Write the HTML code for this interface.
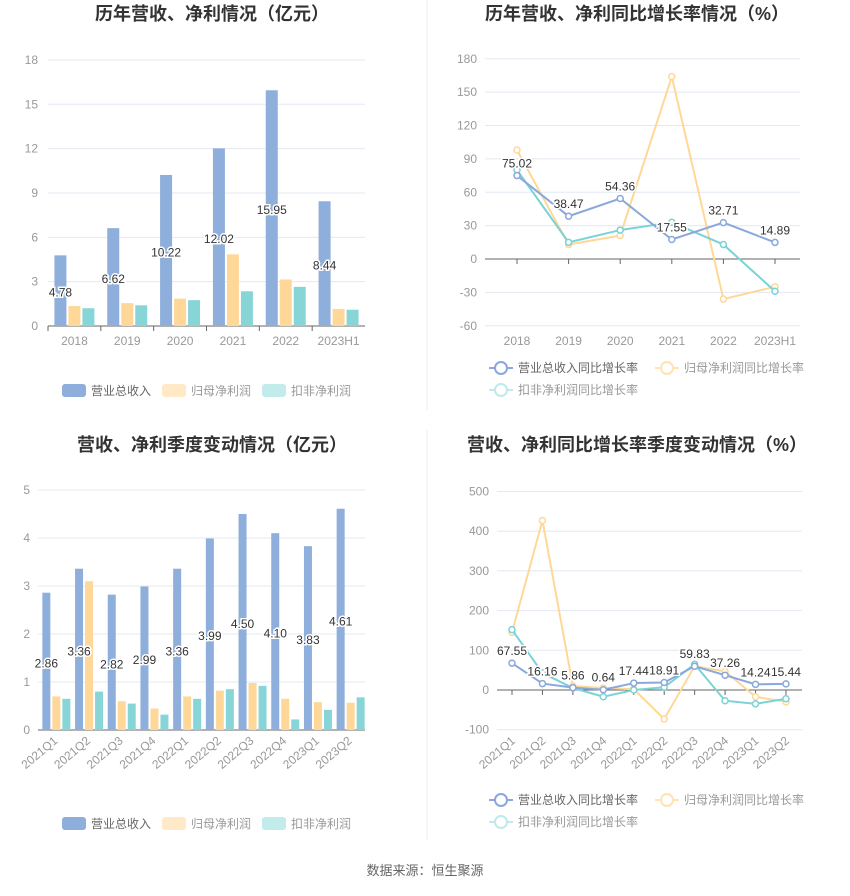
<!DOCTYPE html><html><head><meta charset="utf-8"><style>
body{margin:0;background:#fff;width:850px;height:891px;overflow:hidden;font-family:"Liberation Sans","Noto Sans CJK SC",sans-serif}
</style></head><body>
<svg id="s" width="850" height="891" xmlns="http://www.w3.org/2000/svg" font-family="Liberation Sans, Noto Sans CJK SC, sans-serif"></svg>
<script>
var o='';
function t(x,y,s,a,sz,c,w,ex){o+='<text x="'+x+'" y="'+y+'" text-anchor="'+(a||'middle')+'" font-size="'+(sz||12)+'" fill="'+(c||'#999')+'"'+(w?' font-weight="bold"':'')+(ex||'')+'>'+s+'</text>';}
function l(x1,y1,x2,y2,c,w){o+='<line x1="'+x1+'" y1="'+y1+'" x2="'+x2+'" y2="'+y2+'" stroke="'+c+'" stroke-width="'+(w||1)+'"/>';}
function r(x,y,w,h,c){o+='<rect x="'+x+'" y="'+y+'" width="'+w+'" height="'+h+'" fill="'+c+'"/>';}
var B='#8eaedb',O='#ffd899',T='#88d5d8';
var BL='#8aa8dc',OL='#ffd897',TL='#7ad3d6';
function lab(x,y,s){t(x,y,s,'middle',12,'#333',0,' stroke="#fff" stroke-width="3" paint-order="stroke"');}
l(427,0,427,410,'#eee');l(427,430,427,840,'#eee');
t(212,20,'历年营收、净利情况（亿元）','middle',18,'#333',1);
t(637,20,'历年营收、净利同比增长率情况（%）','middle',18,'#333',1);
t(212,451,'营收、净利季度变动情况（亿元）','middle',18,'#333',1);
t(637,451,'营收、净利同比增长率季度变动情况（%）','middle',18,'#333',1);
(function(){var y0=326,k=14.78,x0=48,x1=365;
for(var v=0;v<=18;v+=3){var y=y0-v*k;if(v)l(x0,y,x1,y,'#e3e8f3');t(38,y+4,v,'end',12,'#999');}
l(x0,y0,x1,y0,'#666');
var c=['2018','2019','2020','2021','2022','2023H1'],a=[4.78,6.62,10.22,12.02,15.95,8.44],b=[1.35,1.55,1.85,4.85,3.15,1.15],d=[1.2,1.4,1.75,2.35,2.65,1.1];
var st=(x1-x0)/6;
for(var i=0;i<6;i++){var cx=x0+st*(i+.5);r(cx-20,y0-a[i]*k,12,a[i]*k,B);r(cx-6,y0-b[i]*k,12,b[i]*k,O);r(cx+8,y0-d[i]*k,12,d[i]*k,T);
l(x0+st*i,y0,x0+st*i,y0+5,'#666');t(cx,345,c[i],'middle',12,'#999');}
for(i=0;i<6;i++){var cx=x0+st*(i+.5);lab(cx-14,y0-a[i]*k/2+6,a[i].toFixed(2));}
})();
function legB(y){o+='<rect x="62" y="'+(y-6)+'" width="24" height="13" rx="3" fill="'+B+'"/>';t(91,y+5,'营业总收入','start',12,'#666');
o+='<rect x="162" y="'+(y-6)+'" width="24" height="13" rx="3" fill="#ffe9c6"/>';t(191,y+5,'归母净利润','start',12,'#999');
o+='<rect x="262" y="'+(y-6)+'" width="24" height="13" rx="3" fill="#c2ebec"/>';t(291,y+5,'扣非净利润','start',12,'#999');}
legB(390);legB(823);
(function(){var y0=730,k=48,x0=38,x1=365;
for(var v=0;v<=5;v++){var y=y0-v*k;if(v)l(x0,y,x1,y,'#e3e8f3');t(30,y+4,v,'end',12,'#999');}
l(x0,y0,x1,y0,'#666');
var c=['2021Q1','2021Q2','2021Q3','2021Q4','2022Q1','2022Q2','2022Q3','2022Q4','2023Q1','2023Q2'],a=[2.86,3.36,2.82,2.99,3.36,3.99,4.50,4.10,3.83,4.61],b=[0.7,3.1,0.6,0.45,0.7,0.82,0.98,0.65,0.58,0.57],d=[0.65,0.8,0.55,0.32,0.65,0.85,0.92,0.22,0.42,0.68];
var st=(x1-x0)/10;
for(var i=0;i<10;i++){var cx=x0+st*(i+.5);r(cx-12,y0-a[i]*k,8,a[i]*k,B);r(cx-2,y0-b[i]*k,8,b[i]*k,O);r(cx+8,y0-d[i]*k,8,d[i]*k,T);
t(cx+4,742,c[i],'end',12,'#999',0,' transform="rotate(-40 '+(cx+4)+' 742)"');}
for(i=0;i<10;i++){var cx=x0+st*(i+.5);lab(cx-8,y0-a[i]*k/2+6,a[i].toFixed(2));}
})();
function lines(y0,k,ticks,x0,x1,xs,st,series,labs,cats,rot,ly){
ticks.forEach(function(v){var y=y0-v*k;if(v)l(x0,y,x1,y,'#e3e8f3');t(x0-8,y+4,v,'end',12,'#999');});
l(x0,y0,x1,y0,'#666');
cats.forEach(function(c,i){var x=xs+st*i;l(x,y0,x,y0+5,'#666');if(rot)t(x+4,ly,c,'end',12,'#999',0,' transform="rotate(-40 '+(x+4)+' '+ly+')"');else t(x,ly,c,'middle',12,'#999');});
series.forEach(function(s){var p=s[1].map(function(v,i){return (xs+st*i)+','+(y0-v*k)}).join(' ');
o+='<polyline points="'+p+'" fill="none" stroke="'+s[0]+'" stroke-width="2"/>';
s[1].forEach(function(v,i){o+='<circle cx="'+(xs+st*i)+'" cy="'+(y0-v*k)+'" r="3" fill="#fff" stroke="'+s[0]+'" stroke-width="1.5"/>';});});
labs.forEach(function(v,i){lab(xs+st*i,y0-v*k-8,v.toFixed(2));});
}
lines(259,1.1125,[-60,-30,0,30,60,90,120,150,180],485,800,517,51.6,
[[OL,[98,13,21,164,-36,-25]],[TL,[80,15,26,33,13,-29]],[BL,[75.02,38.47,54.36,17.55,32.71,14.89]]],
[75.02,38.47,54.36,17.55,32.71,14.89],['2018','2019','2020','2021','2022','2023H1'],0,345);
lines(690,0.397,[-100,0,100,200,300,400,500],497,802,512,30.44,
[[OL,[145,427,10,5,2,-73,60,47,-17,-30]],[TL,[152,43,5,-17,0,7,65,-27,-35,-22]],[BL,[67.55,16.16,5.86,0.64,17.44,18.91,59.83,37.26,14.24,15.44]]],
[67.55,16.16,5.86,0.64,17.44,18.91,59.83,37.26,14.24,15.44],['2021Q1','2021Q2','2021Q3','2021Q4','2022Q1','2022Q2','2022Q3','2022Q4','2023Q1','2023Q2'],1,742);
function legL(x,y,c,s,tc){l(x,y,x+24,y,c,2);o+='<circle cx="'+(x+12)+'" cy="'+y+'" r="6" fill="#fff" stroke="'+c+'" stroke-width="2"/>';t(x+29,y+4,s,'start',12,tc);}
legL(489,368,BL,'营业总收入同比增长率','#666');legL(655,368,'#ffe3b3','归母净利润同比增长率','#999');legL(489,390,'#bfe9eb','扣非净利润同比增长率','#999');
legL(489,800,BL,'营业总收入同比增长率','#666');legL(655,800,'#ffe3b3','归母净利润同比增长率','#999');legL(489,822,'#bfe9eb','扣非净利润同比增长率','#999');
t(425,875,'数据来源：恒生聚源','middle',13,'#666');
document.getElementById('s').innerHTML=o;
</script></body></html>
